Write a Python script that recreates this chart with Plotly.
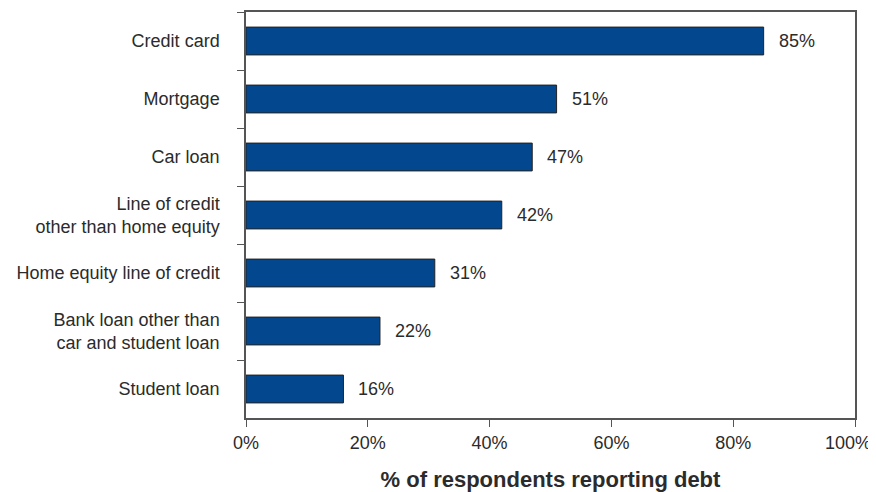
import plotly.graph_objects as go

categories = [
    "Credit card",
    "Mortgage",
    "Car loan",
    "Line of credit<br>other than home equity",
    "Home equity line of credit",
    "Bank loan other than<br>car and student loan",
    "Student loan",
]
values = [85, 51, 47, 42, 31, 22, 16]
value_labels = ["85%", "51%", "47%", "42%", "31%", "22%", "16%"]
tick_vals = [0, 20, 40, 60, 80, 100]
tick_text = ["0%", "20%", "40%", "60%", "80%", "100%"]

FONT = "Liberation Sans, Arial, Helvetica, sans-serif"
TEXT = "#2b2b2b"
AXIS = "#555555"

fig = go.Figure(
    go.Bar(
        y=categories,
        x=values,
        orientation="h",
        width=0.48,
        marker=dict(color="#03478F", line=dict(color="#222222", width=1)),
        hoverinfo="skip",
    )
)

for cat, v, lab in zip(categories, values, value_labels):
    fig.add_annotation(
        x=v, y=cat, text=lab, showarrow=False, xanchor="left", xshift=13,
        font=dict(family=FONT, size=18, color=TEXT),
    )

# last tick label drawn as an annotation so it is nudged inside the page edge
fig.add_annotation(
    x=tick_vals[-1], y=0, xref="x", yref="paper", text=tick_text[-1],
    showarrow=False, xanchor="right", yanchor="middle", xshift=18, yshift=-25,
    font=dict(family=FONT, size=18, color=TEXT),
)

fig.update_layout(
    width=868,
    height=484,
    margin=dict(l=238, r=21, t=4, b=74, autoexpand=False),
    paper_bgcolor="white",
    plot_bgcolor="white",
    showlegend=False,
    font=dict(family=FONT, size=18, color=TEXT),
)

fig.update_xaxes(
    range=[0, 100],
    tickvals=tick_vals,
    ticktext=tick_text[:-1] + [""],
    ticks="outside",
    ticklen=7,
    tickcolor=AXIS,
    showline=True,
    linecolor=AXIS,
    linewidth=1.5,
    mirror=True,
    showgrid=False,
    zeroline=False,
    automargin=False,
    ticklabeloverflow="allow",
    ticklabelstandoff=1,
    tickfont=dict(family=FONT, size=18, color=TEXT),
    title=dict(
        text="% of respondents reporting debt",
        font=dict(family=FONT, size=22, color=TEXT, weight="bold"),
        standoff=25,
    ),
)

fig.update_yaxes(
    categoryorder="array",
    categoryarray=categories,
    autorange="reversed",
    ticks="outside",
    ticklen=7,
    tickcolor=AXIS,
    tickson="boundaries",
    showline=True,
    linecolor=AXIS,
    linewidth=1.5,
    mirror=True,
    showgrid=False,
    automargin=False,
    tickfont=dict(family=FONT, size=18, color=TEXT),
    ticklabelstandoff=21,
)

fig.write_html("out.html")
